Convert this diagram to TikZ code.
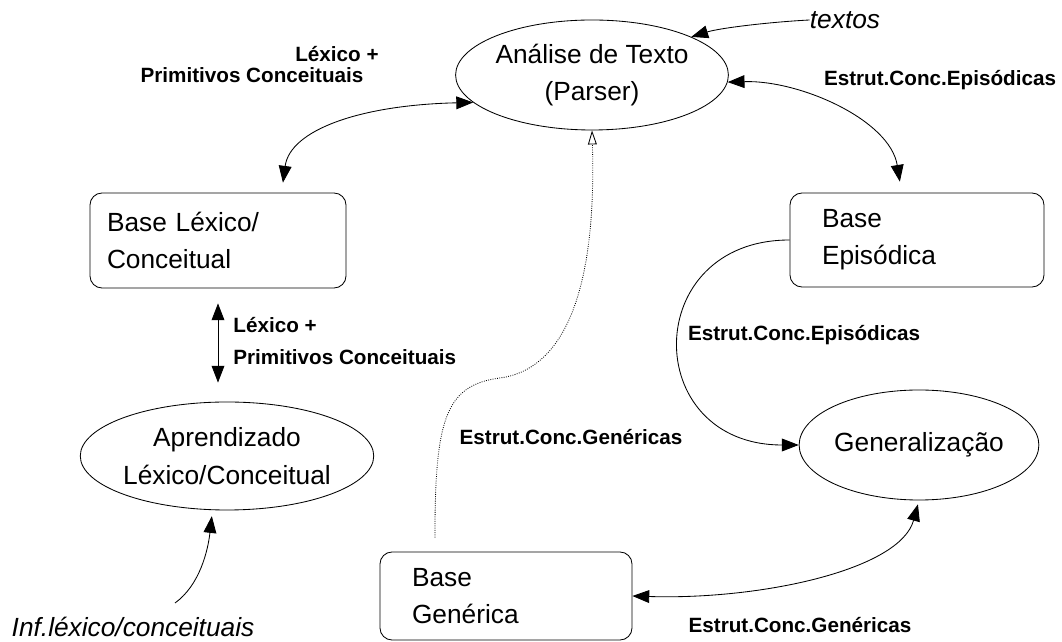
\documentclass[tikz,border=0pt]{standalone}
\usepackage{fontspec}
\setmainfont{Liberation Sans}
\usetikzlibrary{arrows.meta,shapes.geometric}

\begin{document}
\begin{tikzpicture}[>={Triangle[length=4.2mm,width=3.2mm]}, line width=0.6pt,
	elipse/.style={draw, ellipse, inner sep=0pt, align=center, font=\fontsize{18.7}{26.5}\selectfont},
	caixa/.style={draw, rounded corners=3mm, align=left, inner ysep=0pt, font=\fontsize{18.7}{26.2}\selectfont},
	rotulo/.style={inner sep=0pt, font=\bfseries\fontsize{14.7}{23.4}\selectfont},
	entrada/.style={inner sep=0pt, font=\itshape\fontsize{18.7}{26}\selectfont}]

	\useasboundingbox (0,0) rectangle (26.55,16.05);

	% --- Nós ---
	\node[elipse, minimum width=6cm, minimum height=2.75cm] (parser) at (14.8,14.175) {Análise de Texto\\(Parser)};
	\node[elipse, minimum width=6cm, minimum height=2.7cm] (apr) at (5.675,4.65) {Aprendizado\\Léxico/Conceitual};
	\node[elipse, minimum width=5.95cm, minimum height=2.75cm] (genz) at (22.975,4.925) {Generalização};

	\node[caixa, text width=5.55cm, inner xsep=4.25mm, minimum height=2.375cm] (lexbox) at (5.45,10.0375) {Base Léxico/\\Conceitual};
	\node[caixa, text width=4.75cm, inner xsep=8mm, minimum height=2.35cm] (epibox) at (22.925,10.05) {Base\\Episódica};
	\node[caixa, text width=4.7cm, inner xsep=8mm, minimum height=2.2cm] (genbox) at (12.65,1.15) {Base\\Genérica};

	% Entradas
	\node[entrada] (textos) at (21.125,15.55) {textos};
	\node[entrada] (infl) at (3.325,0.375) {Inf.léxico/conceituais};
	\coordinate (inftail) at (4.375,0.975);

	% Rótulos
	\node[rotulo] (lexA) at (8.425,14.7) {Léxico +};
	\node[rotulo] (lexB) at (6.3,14.175) {Primitivos Conceituais};
	\node[rotulo, anchor=west, align=left] (lexC) at (5.825,7.525) {Léxico +\\Primitivos Conceituais};
	\node[rotulo] (epiA) at (23.5,14.05) {Estrut.Conc.Episódicas};
	\node[rotulo] (epiB) at (20.1,7.675) {Estrut.Conc.Episódicas};
	\node[rotulo] (genA) at (14.275,5.125) {Estrut.Conc.Genéricas};
	\node[rotulo] (genB) at (20.0,0.425) {Estrut.Conc.Genéricas};

	% --- Ligações ---
	\draw[->] (textos.west) .. controls (19.25,15.5) and (18.0,15.35) .. (parser.21);
	\draw[<->, shorten >=2.5mm] (parser.193) .. controls (9.0,13.425) and (7.25,12.8) .. (lexbox.37);
	\draw[<->, shorten >=2.75mm] (parser.-3) .. controls (20.0,14.05) and (22.25,13.05) .. (epibox.108);
	\draw[<->, shorten <=3.75mm, shorten >=4.75mm] (lexbox.south) -- (lexbox.south |- apr.north);
	\draw[->, shorten >=1.5mm] (inftail) .. controls (5.0,1.425) and (5.2,2.3) .. (apr.255);
	\draw[->] (epibox.west) .. controls (16.0,10.05) and (16.0,4.925) .. (genz.west);
	\draw[<->, shorten >=1mm] (genbox.east) .. controls (19.0,1.05) and (22.5,1.8) .. (genz.south);

	% Ligação pontilhada
	\draw[densely dotted, line width=0.6pt, -{Triangle[open,length=3.5mm,width=2.2mm]}, shorten <=3.5mm]
		(genbox.148) .. controls (10.875,5.55) and (11.125,6.425) .. (12.5,6.6)
		.. controls (14.0,6.8) and (14.925,8.55) .. (parser.south);
\end{tikzpicture}
\end{document}
